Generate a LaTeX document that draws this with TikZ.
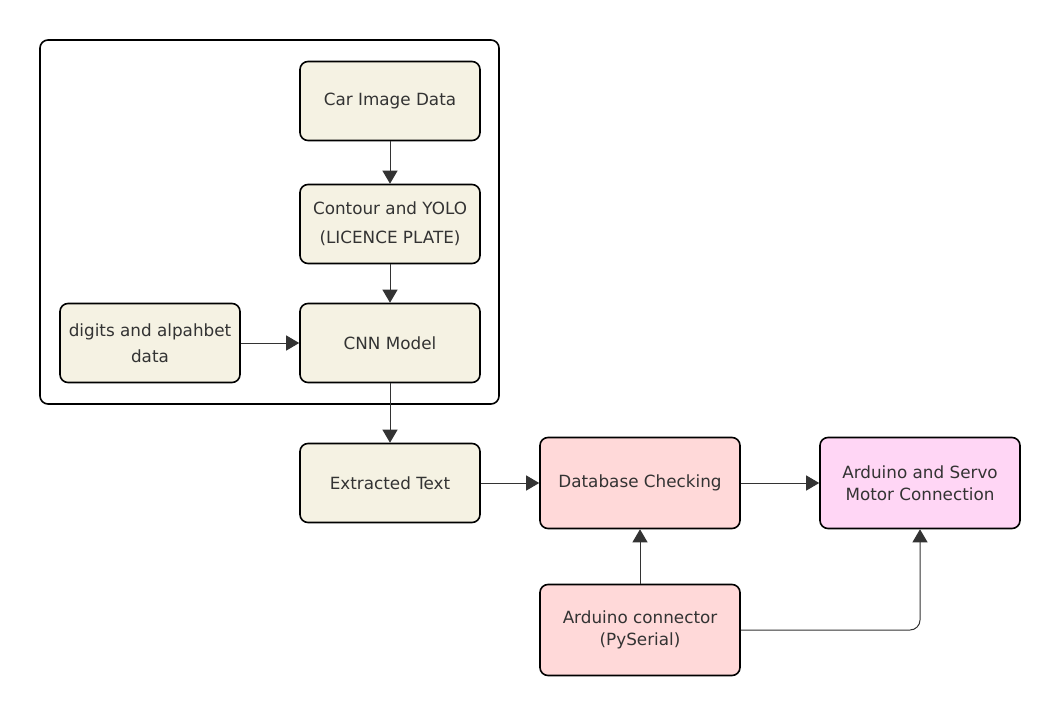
\documentclass[tikz,border=0pt]{standalone}
\usepackage{fontspec}
\setmainfont{DejaVu Sans}
\usetikzlibrary{arrows.meta,positioning}
\definecolor{beige}{RGB}{245,242,227}
\definecolor{pinkbox}{RGB}{255,217,217}
\definecolor{violetbox}{RGB}{255,214,245}
\definecolor{ink}{RGB}{51,51,51}
\tikzset{
  box/.style={draw=black, line width=1.6pt, rounded corners=8pt, text=ink,
    font=\fontsize{16.8}{22}\selectfont, align=center, inner sep=0pt},
  bbox/.style={box, fill=beige, minimum width=180pt, minimum height=79pt},
  pbox/.style={box, fill=pinkbox, minimum width=200pt, minimum height=91pt},
  vbox/.style={box, fill=violetbox, minimum width=200pt, minimum height=91pt},
  conn/.style={draw=ink, line width=1pt, -{Triangle[width=15pt,length=13pt]}},
}
\begin{document}
\begin{tikzpicture}[x=1pt,y=-1pt]
\useasboundingbox (0,0) rectangle (1060,715);
\node[draw=black, line width=1.6pt, rounded corners=8pt, minimum width=459pt, minimum height=364pt, inner sep=0pt] (frame) at (269.5,222) {};
\node[bbox] (car) at (390,101) {Car Image Data};
\node[bbox] (yolo) at (390,224) {Contour and YOLO\\[7pt](LICENCE PLATE)};
\node[bbox] (cnn) at (390,343) {CNN Model};
\node[bbox] (dig) at (150,343) {digits and alpahbet\\[4pt]data};
\node[bbox] (ext) at (390,483) {Extracted Text};
\node[pbox] (db) at (640,483) {Database Checking};
\node[vbox] (ard) at (920,483) {Arduino and Servo\\Motor Connection};
\node[pbox] (con) at (640,630) {Arduino connector\\(PySerial)};
\draw[conn] (car) -- (yolo);
\draw[conn] (yolo) -- (cnn);
\draw[conn] (dig) -- (cnn);
\draw[conn] (cnn) -- (ext);
\draw[conn] (ext) -- (db);
\draw[conn] (db) -- (ard);
\draw[conn] (con) -- (db);
\draw[conn, rounded corners=10pt] (con.east) -- (con.east -| ard.south) -- (ard.south);
\end{tikzpicture}
\end{document}
